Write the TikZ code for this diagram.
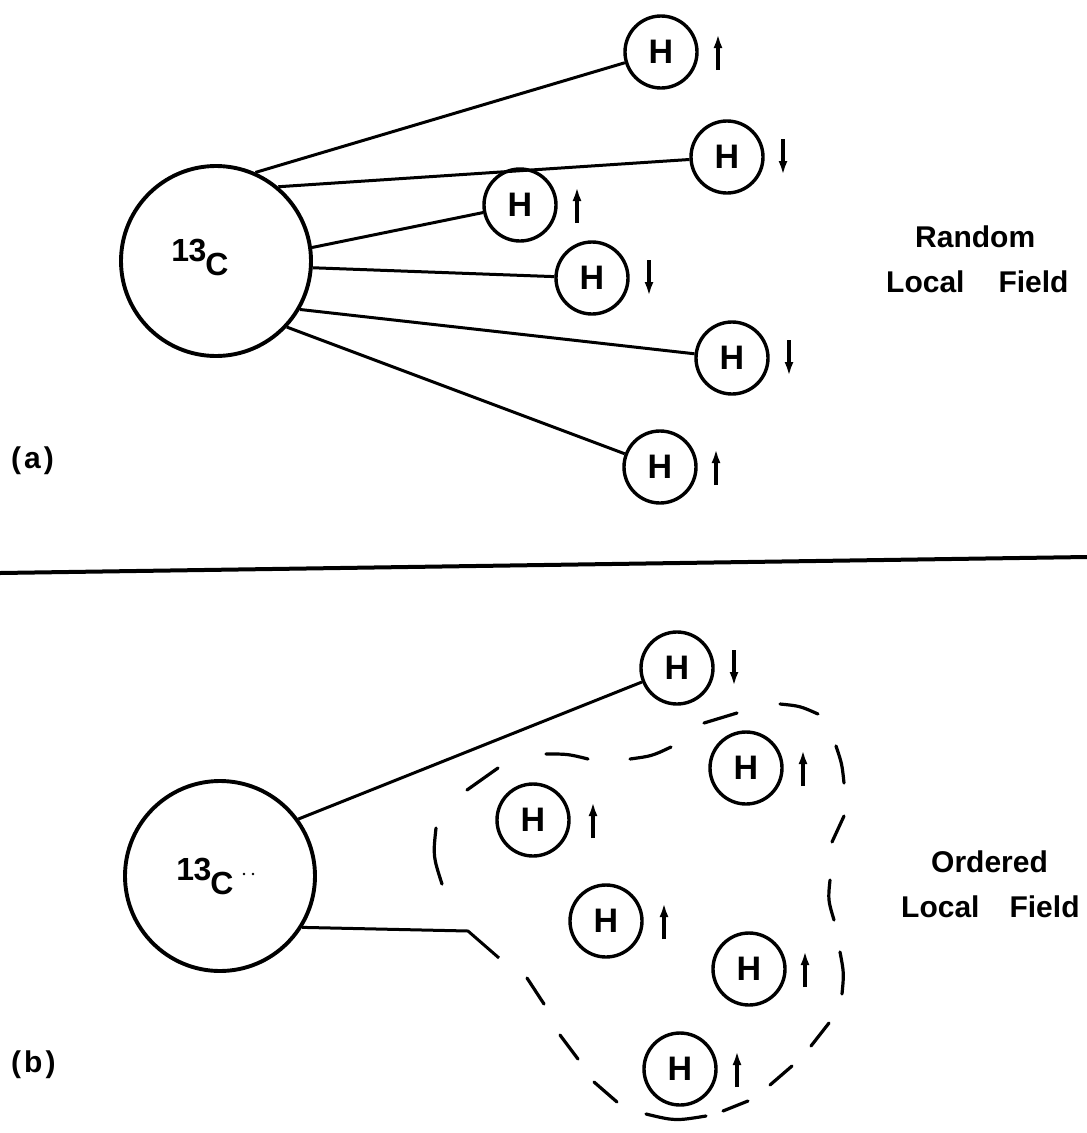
\documentclass[tikz,border=0pt]{standalone}
\usepackage{fontspec}
\newfontfamily\lfont{Liberation Sans}
\usetikzlibrary{arrows.meta,calc}
\begin{document}
\begin{tikzpicture}[x=1pt,y=-1pt,
 atom/.style={circle,draw,line width=3.4pt,minimum size=72pt,inner sep=0pt,font={\lfont\bfseries\fontsize{34}{40}\selectfont}},
 bigatom/.style={circle,draw,line width=3.9pt,minimum size=190pt,inner sep=0pt},
 bond/.style={line width=3pt,line join=round},
 spin/.style={line width=3.6pt,-{Latex[length=14pt,width=9pt]}},
 dseg/.style={line width=3.2pt,line cap=round},
 lbl/.style={font={\lfont\bfseries\fontsize{30}{36}\selectfont},inner sep=0pt},
 clbl/.style={font={\lfont\bfseries\fontsize{32}{36}\selectfont},inner sep=0pt}
]
\useasboundingbox (0,0) rectangle (1087,1133);
\fill[white] (0,0) rectangle (1087,1133);

% ---------- panel (a) ----------
\node[bigatom] (Ca) at (216,261) {};
\node[clbl] (Cal) at (200,257) {\raisebox{14pt}{1\kern-0.5pt 3}\kern-1pt C};

\node[atom] (a1) at (661,52) {H};
\node[atom] (a2) at (727,157) {H};
\node[atom] (a3) at (520,205) {H};
\node[atom] (a4) at (592,278) {H};
\node[atom] (a5) at (732,358) {H};
\node[atom] (a6) at (660,467) {H};

\draw[bond] (Ca.66) -- (a1);
\draw[bond] (Ca.50) -- (a2);
\draw[bond] (Ca.8) -- (a3);
\draw[bond] (Ca.-4) -- (a4);
\draw[bond] (Ca.-30) -- (a5);
\draw[bond] (Ca.-43) -- (a6);

\draw[spin] ($(a1)+(57,18)$) -- ($(a1)+(57,-18)$);
\draw[spin] ($(a2)+(56,-18)$) -- ($(a2)+(56,18)$);
\draw[spin] ($(a3)+(57,18)$) -- ($(a3)+(57,-18)$);
\draw[spin] ($(a4)+(57,-18)$) -- ($(a4)+(57,18)$);
\draw[spin] ($(a5)+(57,-18)$) -- ($(a5)+(57,18)$);
\draw[spin] ($(a6)+(56,18)$) -- ($(a6)+(56,-18)$);

\node[lbl,anchor=base west] (ra) at (915,247) {Random};
\node[lbl,anchor=base west] (rb) at (886,292) {Local\hspace{34pt}Field};
\node[lbl,anchor=base west] (la) at (11,468) {(\kern3pt a\kern3pt)};

% ---------- separator ----------
\coordinate (sepL) at (0,573);
\coordinate (sepR) at (1087,557);
\draw[line width=4pt] (sepL) -- (sepR);

% ---------- panel (b) ----------
\node[bigatom] (Cb) at (220,876) {};
\node[clbl] (Cbl) at (205,876) {\raisebox{14pt}{1\kern-0.5pt 3}\kern-1pt C};
\fill (244,874) circle (1.3pt);
\fill (253,874) circle (1.3pt);

\node[atom] (b1) at (677,668) {H};
\node[atom] (b2) at (746,768) {H};
\node[atom] (b3) at (533,820) {H};
\node[atom] (b4) at (606,921) {H};
\node[atom] (b5) at (749,969) {H};
\node[atom] (b6) at (680,1069) {H};

\draw[bond] (Cb.36) -- (b1);
\coordinate (bend) at (468,931);
\coordinate (bendend) at (499,958);
\draw[bond] (Cb.-32) -- (bend) -- (bendend);

\draw[spin] ($(b1)+(57,-18)$) -- ($(b1)+(57,18)$);
\draw[spin] ($(b2)+(57,18)$) -- ($(b2)+(57,-18)$);
\draw[spin] ($(b3)+(60,18)$) -- ($(b3)+(60,-18)$);
\draw[spin] ($(b4)+(58,18)$) -- ($(b4)+(58,-18)$);
\draw[spin] ($(b5)+(56,18)$) -- ($(b5)+(56,-18)$);
\draw[spin] ($(b6)+(57,18)$) -- ($(b6)+(57,-18)$);

% dashed outline of the ordered cluster
\draw[dseg] (527,978) -- (544,1004);
\draw[dseg] (560,1035) -- (578,1059);
\draw[dseg] (594,1082) -- (617,1102);
\draw[dseg] (646,1114) .. controls (675,1121) .. (706,1116);
\draw[dseg] (723,1111) -- (748,1101);
\draw[dseg] (770,1085) -- (792,1066);
\draw[dseg] (811,1046) -- (829,1023);
\draw[dseg] (840,952) .. controls (844,973) .. (842,994);
\draw[dseg] (830,880) .. controls (828,900) .. (834,920);
\draw[dseg] (832,842) -- (844,816);
\draw[dseg] (836,746) .. controls (842,764) .. (844,783);
\draw[dseg] (780,704) .. controls (800,706) .. (818,714);
\draw[dseg] (704,723) -- (737,713);
\draw[dseg] (630,759) .. controls (652,756) .. (671,747);
\draw[dseg] (546,754) .. controls (568,754) .. (588,759);
\draw[dseg] (467,790) -- (498,768);
\draw[dseg] (436,828) .. controls (433,856) .. (442,884);

\node[lbl,anchor=base west] (oa) at (931,872) {Ordered};
\node[lbl,anchor=base west] (ob) at (901,917) {Local\hspace{30pt}Field};
\node[lbl,anchor=base west] (lb) at (11,1072) {(\kern3pt b\kern3pt)};
\end{tikzpicture}
\end{document}
